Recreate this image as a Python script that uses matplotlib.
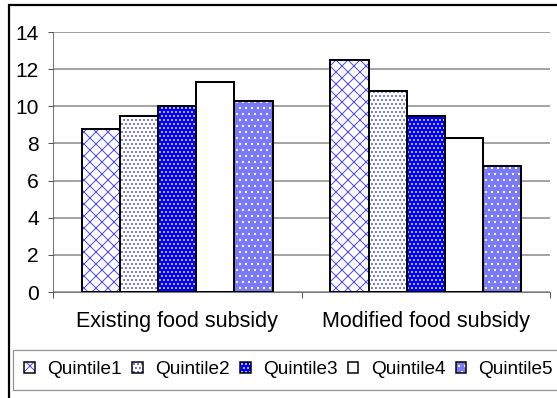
import matplotlib
matplotlib.use("Agg")
import matplotlib.pyplot as plt
from matplotlib.patches import Patch, Rectangle
import numpy as np

categories = ["Existing food subsidy", "Modified food subsidy"]
series = ["Quintile1", "Quintile2", "Quintile3", "Quintile4", "Quintile5"]
q1 = [8.8, 12.5]
q2 = [9.5, 10.8]
q3 = [10.0, 9.5]
q4 = [11.3, 8.3]
q5 = [10.3, 6.8]
yticks = [0, 2, 4, 6, 8, 10, 12, 14]

values = [q1, q2, q3, q4, q5]
# (face colour, hatch pattern, hatch colour) per quintile
styles = [
    ("white", "xx", "#4a4aff"),
    ("white", "...", "#3a3aff"),
    ("#0000ff", "...", "white"),
    ("white", "", "white"),
    ("#7a7af8", "..", "white"),
]

plt.rcParams["font.family"] = ["Liberation Sans", "DejaVu Sans"]
plt.rcParams["hatch.linewidth"] = 1.0

W, H = 557, 398
fig = plt.figure(figsize=(W / 72, H / 72), dpi=72)
fig.patch.set_facecolor("white")

ax = fig.add_axes([53 / W, (H - 292) / H, (550 - 53) / W, (292 - 32) / H])

x = np.arange(len(categories))
bw = 0.1535
for i, (vals, (fc, hatch, hc)) in enumerate(zip(values, styles)):
    pos = x + (i - 2) * bw
    ax.bar(pos, vals, width=bw, facecolor=fc, hatch=hatch, edgecolor=hc,
           linewidth=0, zorder=3)
    ax.bar(pos, vals, width=bw, fill=False, edgecolor="black",
           linewidth=2, zorder=4)

ax.set_xlim(-0.5, 1.5)
ax.set_ylim(0, 14)
ax.set_yticks(yticks)
ax.set_yticklabels([str(t) for t in yticks], fontsize=21)
ax.tick_params(axis="y", length=5, width=1, color="#555555", pad=9)
ax.yaxis.grid(True, color="#888888", linewidth=1.5, zorder=0)
ax.set_axisbelow(True)

ax.set_xticks(x)
ax.set_xticklabels(categories, fontsize=21.5)
ax.tick_params(axis="x", which="major", length=0, pad=19)
ax.set_xticks([-0.5, 0.5, 1.5], minor=True)
ax.tick_params(axis="x", which="minor", length=6, width=1, color="#555555")

for s in ["top", "right"]:
    ax.spines[s].set_visible(False)
ax.spines["left"].set_color("#555555")
ax.spines["bottom"].set_color("#555555")

# outer chart border (extends past the canvas on the right and bottom)
fig.patches.append(Rectangle((9 / W, -0.2), 1.2, 1.2 - 5 / H,
                             transform=fig.transFigure, fill=False,
                             edgecolor="black", linewidth=2.2, zorder=10))

handles = []
for fc, hatch, hc in styles:
    handles.append((Patch(facecolor=fc, hatch=hatch, edgecolor=hc, linewidth=0),
                    Patch(fill=False, edgecolor="black", linewidth=1.5)))

leg = fig.legend(handles, series, loc="upper left",
                 bbox_to_anchor=(13 / W, (H - 350) / H),
                 ncol=5, fontsize=19, frameon=True, fancybox=False,
                 handlelength=0.55, handleheight=0.55, handletextpad=0.65,
                 columnspacing=0.55, borderpad=0.6, borderaxespad=0)
leg.get_frame().set_edgecolor("#777777")
leg.get_frame().set_linewidth(1.2)

fig.savefig("out.png", dpi=72)
